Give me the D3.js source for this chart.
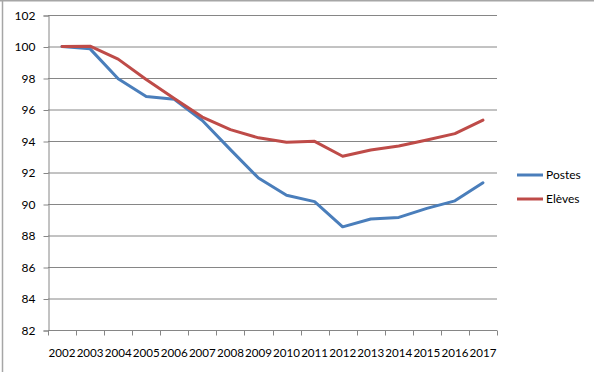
<!DOCTYPE html>
<html>
<head>
<meta charset="utf-8">
<script src="https://cdn.jsdelivr.net/npm/d3@7"></script>
<style>
  body { margin: 0; background: #fff; }
  text { font-family: Lato, "Open Sans", sans-serif; font-size: 12px; fill: #000; }
</style>
</head>
<body>
<div id="chart"></div>
<script>
var width = 594;
var height = 372;

var years = ['2002','2003','2004','2005','2006','2007','2008','2009',
             '2010','2011','2012','2013','2014','2015','2016','2017'];
var postes = [100, 99.85, 97.95, 96.82, 96.65, 95.3, 93.45, 91.65,
              90.55, 90.15, 88.55, 89.05, 89.15, 89.72, 90.2, 91.35];
var eleves = [100, 100.02, 99.2, 97.9, 96.7, 95.52, 94.72, 94.2,
              93.92, 93.98, 93.03, 93.43, 93.68, 94.06, 94.47, 95.33];
var yTicks = [82, 84, 86, 88, 90, 92, 94, 96, 98, 100, 102];
var seriesNames = ['Postes', 'Elèves'];
var seriesColors = ['#4A7EBB', '#BE4B48'];

// plot area (window.top is reserved, so other names here)
var plotLeft = 48, plotRight = 497, plotTop = 15, plotBottom = 330;

var svg = d3.select('#chart').append('svg')
    .attr('width', width)
    .attr('height', height);

// frame
svg.append('line').attr('x1', 0).attr('y1', 0.5).attr('x2', width).attr('y2', 0.5)
   .attr('stroke', '#a6a6a6').attr('stroke-width', 2);
svg.append('line').attr('x1', 2.5).attr('y1', 0).attr('x2', 2.5).attr('y2', height)
   .attr('stroke', '#a6a6a6').attr('stroke-width', 1.5);

var x = d3.scaleBand().domain(years).range([plotLeft, plotRight]);
var y = d3.scaleLinear().domain([82, 102]).range([plotBottom, plotTop]);

// gridlines
svg.append('g').selectAll('line')
  .data(yTicks.slice(1))
  .enter().append('line')
    .attr('x1', plotLeft).attr('x2', plotRight)
    .attr('y1', function (d) { return y(d) + 0.5; })
    .attr('y2', function (d) { return y(d) + 0.5; })
    .attr('stroke', '#868686')
    .attr('stroke-width', 1);

// y axis
var yAxis = svg.append('g')
    .attr('transform', 'translate(' + (plotLeft + 0.5) + ',0.5)')
    .call(d3.axisLeft(y).tickValues(yTicks).tickSize(5).tickPadding(8));
yAxis.select('.domain').attr('stroke', '#868686');
yAxis.selectAll('.tick line').attr('stroke', '#868686');
yAxis.selectAll('text').style('font-size', '12px').style('font-family', 'Lato, sans-serif').attr('fill', '#000');

// x axis, ticks on category boundaries
var xAxis = svg.append('g')
    .attr('transform', 'translate(0,' + (plotBottom + 0.5) + ')');
xAxis.append('line')
    .attr('x1', plotLeft).attr('x2', plotRight)
    .attr('stroke', '#868686');
xAxis.selectAll('.tk')
  .data(years.concat(['end']))
  .enter().append('line')
    .attr('x1', function (d, i) { return Math.round(plotLeft + i * x.step()) + 0.5; })
    .attr('x2', function (d, i) { return Math.round(plotLeft + i * x.step()) + 0.5; })
    .attr('y1', 0).attr('y2', 5)
    .attr('stroke', '#868686');
xAxis.selectAll('text')
  .data(years)
  .enter().append('text')
    .attr('x', function (d) { return x(d) + x.bandwidth() / 2; })
    .attr('y', 26)
    .attr('text-anchor', 'middle')
    .style('font-size', '11.6px')
    .text(function (d) { return d; });

// lines
var line = d3.line()
    .x(function (d, i) { return x(years[i]) + x.bandwidth() / 2; })
    .y(function (d) { return y(d); });

[postes, eleves].forEach(function (s, k) {
  svg.append('path')
    .datum(s)
    .attr('d', line)
    .attr('fill', 'none')
    .attr('stroke', seriesColors[k])
    .attr('stroke-width', 3)
    .attr('stroke-linejoin', 'round')
    .attr('stroke-linecap', 'round');
});

// legend
var legend = svg.append('g');
seriesNames.forEach(function (n, k) {
  var ly = 175 + k * 24;
  legend.append('line')
    .attr('x1', 517).attr('x2', 543)
    .attr('y1', ly).attr('y2', ly)
    .attr('stroke', seriesColors[k])
    .attr('stroke-width', 3);
  legend.append('text')
    .attr('x', 546).attr('y', ly + 4)
    .text(n);
});
</script>
</body>
</html>
